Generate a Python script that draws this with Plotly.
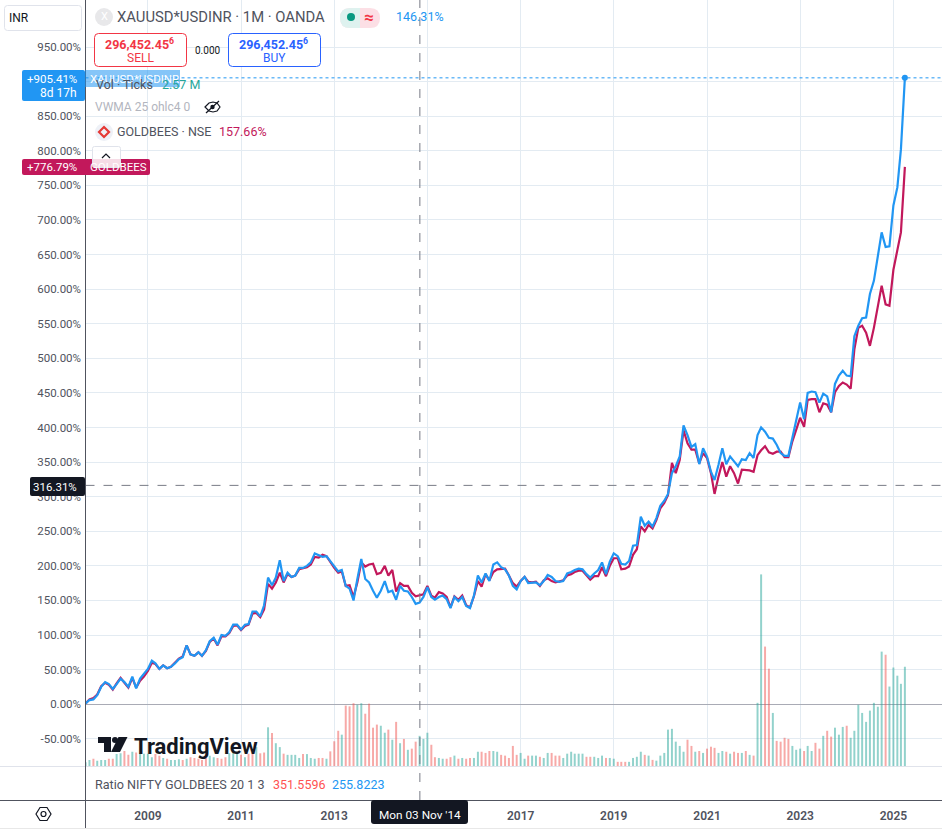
import pandas as pd
import plotly.graph_objects as go

W, H = 942, 835

# Monthly closes, % change from the first bar
xau_pct = [
    1, 6, 7, 13, 25, 32, 29, 22, 29, 37, 32, 25, 40, 23, 37, 44, 51, 63, 59, 51,
    56, 52, 54, 59, 65, 68, 85, 72, 70, 75, 70, 78, 91, 96, 86, 100, 99, 104, 115, 115,
    108, 115, 116, 134, 134, 127, 143, 183, 172, 183, 208, 178, 190, 184, 186, 197, 197, 200, 205, 218,
    216, 213, 214, 207, 200, 192, 194, 171, 167, 150, 181, 210, 181, 176, 164, 154, 164, 178, 162, 164,
    151, 171, 164, 163, 155, 145, 147, 155, 169, 155, 151, 155, 157, 152, 139, 155, 149, 155, 142, 139,
    157, 186, 176, 189, 178, 202, 205, 198, 195, 186, 171, 166, 178, 184, 175, 176, 176, 172, 178, 187,
    184, 178, 177, 178, 189, 191, 194, 196, 195, 188, 183, 189, 194, 205, 188, 206, 218, 214, 203, 202,
    207, 229, 230, 271, 258, 264, 257, 269, 287, 294, 304, 334, 344, 358, 403, 389, 372, 376, 347, 370,
    358, 336, 324, 346, 370, 347, 358, 351, 344, 354, 353, 363, 356, 389, 400, 394, 385, 384, 375, 363,
    359, 359, 384, 409, 436, 412, 450, 452, 451, 436, 449, 445, 422, 463, 475, 482, 475, 474, 532, 547,
    558, 559, 593, 612, 651, 682, 661, 662, 721, 747, 802, 905.41,
]
goldbees_pct = [
    1, 7, 9, 14, 26, 31, 28, 21, 30, 38, 31, 24, 38, 24, 34, 40, 48, 60, 58, 51,
    56, 52, 54, 60, 66, 69, 85, 72, 70, 75, 70, 77, 90, 95, 85, 98, 98, 103, 113, 114,
    107, 113, 115, 131, 132, 126, 137, 174, 167, 176, 190, 176, 188, 184, 186, 195, 196, 198, 202, 213,
    212, 216, 214, 205, 197, 190, 192, 171, 172, 155, 176, 205, 199, 202, 203, 188, 190, 200, 186, 194,
    163, 175, 171, 171, 161, 156, 158, 159, 171, 157, 154, 162, 160, 155, 140, 156, 151, 157, 143, 140,
    156, 178, 170, 188, 179, 191, 195, 196, 196, 186, 175, 170, 178, 184, 177, 176, 177, 171, 179, 182,
    178, 176, 177, 179, 186, 188, 191, 193, 193, 187, 180, 185, 185, 198, 185, 200, 211, 211, 195, 196,
    199, 216, 224, 257, 250, 259, 254, 266, 283, 291, 302, 349, 334, 353, 396, 377, 368, 368, 348, 363,
    356, 334, 304, 329, 350, 329, 344, 334, 319, 339, 339, 338, 336, 360, 367, 373, 364, 362, 365, 365,
    357, 357, 380, 397, 414, 401, 440, 441, 441, 422, 435, 433, 422, 451, 460, 465, 462, 456, 513, 544,
    547, 537, 518, 544, 576, 605, 578, 576, 628, 656, 682, 776.79,
]
# Volume overlay, millions of ticks
vol_m = [
    .11, .17, .20, .15, .17, .17, .20, .20, .32, .34, .40, .30, .38, .36, .34, .33, .33, .24, .32, .28,
    .22, .20, .17, .17, .19, .17, .20, .24, .22, .20, .17, .22, .28, .24, .22, .20, .24, .34, .34, .34,
    .30, .24, .33, .34, .50, .34, .36, 1.01, .86, .60, .50, .33, .30, .30, .30, .22, .32, .32, .22, .20,
    .22, .22, .20, .39, .65, .92, .82, 1.57, 1.55, 1.63, 1.59, 1.63, 1.36, 1.62, 1.00, 1.08, 1.05, .87, .95, .69,
    1.15, .60, .71, .43, .46, .64, .79, .71, .87, .56, .24, .22, .20, .20, .24, .28, .20, .22, .20, .22,
    .22, .38, .38, .35, .40, .40, .38, .30, .28, .22, .53, .30, .35, .20, .28, .28, .28, .25, .22, .35,
    .35, .28, .28, .22, .33, .38, .33, .33, .33, .25, .25, .25, .22, .28, .22, .22, .20, .12, .12, .12,
    .12, .22, .25, .38, .30, .28, .17, .15, .28, .35, .95, .97, .64, .53, .38, .69, .53, .38, .40, .35,
    .46, .51, .48, .35, .40, .38, .33, .38, .35, .35, .40, .30, .28, 1.64, 4.95, 3.09, 2.52, 1.38, .66, .64,
    .74, .71, .53, .43, .46, .40, .53, .40, .61, .46, .79, .92, .77, 1.00, .82, 1.02, 1.05, .74, .92, 1.59,
    1.38, 1.15, 1.44, 1.64, 1.54, 2.96, 2.88, 2.06, 2.55, 2.34, 2.13, 2.57,
]
# months whose volume bar closed down
vol_down = [
    2, 6, 7, 10, 11, 13, 18, 19, 21, 25, 27, 28, 29, 30, 31, 34, 35, 36, 40, 42,
    43, 45, 46, 48, 51, 56, 60, 61, 63, 64, 65, 67, 68, 69, 72, 73, 74, 75, 78, 80,
    82, 84, 85, 89, 90, 93, 94, 96, 98, 99, 102, 103, 104, 107, 108, 109, 110, 111, 114, 117,
    120, 121, 122, 129, 130, 134, 137, 138, 139, 144, 146, 155, 156, 158, 160, 161, 162, 165, 167, 168,
    170, 172, 175, 176, 178, 179, 180, 181, 185, 188, 189, 191, 192, 196, 206,
]
y_ticks = [-50, 0, 50, 100, 150, 200, 250, 300, 350, 400, 450, 500, 550, 600, 650, 700, 750, 800, 850, 900, 950]
x_ticks = ["2009", "2011", "2013", "2015", "2017", "2019", "2021", "2023", "2025"]

dates = pd.date_range("2007-09-01", periods=len(xau_pct), freq="MS")
cursor_date = "2014-11-03"
cursor_pct = 316.31

FONT = "Roboto"
BLUE = "#2196f3"
CRIMSON = "#c2185b"
GREY = "#50535e"
GRID = "#e3ebf2"


# pixel helpers for the chrome around the chart
def px(x):
    return x / W


def py(y):
    return 1 - y / H


def box(x0, y0, x1, y1, fill=None, line=None, lw=1, r=0):
    if r:
        a, b, c, d = px(x0), px(x1), py(y0), py(y1)
        rx, ry = r / W, r / H
        path = (f"M{a + rx},{c} L{b - rx},{c} Q{b},{c} {b},{c - ry} L{b},{d + ry} Q{b},{d} {b - rx},{d} "
                f"L{a + rx},{d} Q{a},{d} {a},{d + ry} L{a},{c - ry} Q{a},{c} {a + rx},{c} Z")
        return dict(type="path", xref="paper", yref="paper", path=path, fillcolor=fill or "rgba(0,0,0,0)",
                    line=dict(color=line or "rgba(0,0,0,0)", width=lw))
    return dict(type="rect", xref="paper", yref="paper", x0=px(x0), x1=px(x1), y0=py(y0), y1=py(y1),
                fillcolor=fill or "rgba(0,0,0,0)", line=dict(color=line or "rgba(0,0,0,0)", width=lw))


def rule(x0, y0, x1, y1, color, lw=1, dash="solid"):
    return dict(type="line", xref="paper", yref="paper", x0=px(x0), x1=px(x1), y0=py(y0), y1=py(y1),
                line=dict(color=color, width=lw, dash=dash))


def dot(cx, cy, r, fill):
    return dict(type="circle", xref="paper", yref="paper", x0=px(cx - r), x1=px(cx + r), y0=py(cy - r), y1=py(cy + r),
                fillcolor=fill, line=dict(width=0))


def poly(points, fill=None, line=None, lw=1, closed=True):
    d = "M" + " L".join(f"{px(a)},{py(b)}" for a, b in points) + (" Z" if closed else "")
    return dict(type="path", xref="paper", yref="paper", path=d, fillcolor=fill or "rgba(0,0,0,0)",
                line=dict(color=line or "rgba(0,0,0,0)", width=lw))


def label(x, y, text, color=GREY, size=12, anchor="left", weight=None):
    font = dict(family=FONT, size=size, color=color)
    if weight:
        font["weight"] = weight
    return dict(xref="paper", yref="paper", x=px(x), y=py(y), text=text, showarrow=False, xanchor=anchor,
                yanchor="middle", font=font, borderpad=0, borderwidth=0)


fig = go.Figure()

fig.add_trace(go.Bar(
    x=dates, y=vol_m, yaxis="y2",
    marker_color=["rgba(239,83,80,0.5)" if i in vol_down else "rgba(38,166,154,0.5)" for i in range(len(vol_m))],
    marker_line_width=0,
    width=15.5 * 86400000,
))
fig.add_trace(go.Scatter(x=dates, y=goldbees_pct, mode="lines", line=dict(color=CRIMSON, width=2.2)))
fig.add_trace(go.Scatter(x=dates, y=xau_pct, mode="lines", line=dict(color=BLUE, width=2.2)))
fig.add_trace(go.Scatter(x=dates[-1:], y=xau_pct[-1:], mode="markers", marker=dict(color=BLUE, size=6)))

shapes = [
    # price and cursor lines
    dict(type="line", xref="paper", yref="y", x0=px(85.5), x1=1, y0=905.41, y1=905.41,
         line=dict(color=BLUE, width=1, dash="dot")),
    dict(type="line", xref="paper", yref="y", x0=px(85.5), x1=1, y0=cursor_pct, y1=cursor_pct,
         line=dict(color="#787b86", width=1, dash="dash")),
    dict(type="line", xref="x", yref="paper", x0=cursor_date, x1=cursor_date, y0=py(800), y1=1,
         line=dict(color="#787b86", width=1, dash="dash")),
    # pane separators
    rule(0, 766.5, 942, 766.5, "#e0e3eb"),
    rule(0, 800.5, 942, 800.5, GREY),
    rule(85.5, 0, 85.5, 828, GREY),
    rule(0, 828.5, 942, 828.5, "#e8e8e8"),
    # scale tag boxes
    box(4.5, 5.5, 81.5, 30.5, "white", "#e0e3eb", 1, 3),
    box(22, 70, 85, 101, BLUE, None, 0, 2),
    box(85, 70, 180, 87, "rgba(33,150,243,0.55)"),
    box(22, 159, 150, 175, CRIMSON, None, 0, 2),
    box(30, 477, 85, 496, "#131722", None, 0, 2),
    box(371, 800, 468, 824, "#131722", None, 0, 3),
    # legend
    dot(104, 17, 9, "#e8e8ea"),
    box(340, 8, 380, 28, "#fcdfe5", None, 0, 10),
    box(340, 8, 360, 28, "#def2ef", None, 0, 10),
    box(352, 8, 360, 28, "#def2ef"),
    dot(351, 17, 4, "#089981"),
    box(94.5, 33.5, 186.5, 66.5, "white", "#f23645", 1, 4),
    box(228.5, 33.5, 320.5, 66.5, "white", "#2962ff", 1, 4),
    dot(104, 132, 9, "#eef1f7"),
    poly([(104, 127), (109, 132), (104, 137), (99, 132)], None, "#e53935", 2.2),
    box(92.5, 146.5, 120.5, 167.5, "rgba(255,255,255,0.85)", "#e0e3eb", 1, 2),
    poly([(102, 158), (106, 154), (110, 158)], None, "#131722", 1.2, False),
    # hidden-eye icon
    poly([(205, 107), (209, 103), (213, 102), (217, 103), (220, 107), (217, 111), (213, 112), (209, 111)], None, "#131722", 1.2),
    dot(212.5, 107, 2.2, "#131722"),
    rule(206, 113, 219, 101, "#131722", 1.2),
    # TradingView mark
    poly([(98, 737), (111, 737), (111, 752), (104, 752), (104, 743), (98, 743)], "#131722"),
    dot(115, 740, 3, "#131722"),
    poly([(118.5, 737), (127.5, 737), (120, 752), (111, 752)], "#131722"),
    # gear icon
    poly([(36, 814), (40, 807.5), (47, 807.5), (51, 814), (47, 820.5), (40, 820.5)], None, "#131722", 1.2),
    dict(type="circle", xref="paper", yref="paper", x0=px(41), x1=px(46), y0=py(811.5), y1=py(816.5),
         line=dict(color="#131722", width=1.2)),
]

annotations = [
    label(8.5, 18, "INR", "#131722"),
    label(104, 17, "X", "white", 11, "center"),
    label(117, 17, "XAUUSD*USDINR · 1M · OANDA", GREY, 14.8),
    label(369, 17, "≈", "#f23645", 17, "center", 700),
    label(396, 17, "146.31%", BLUE, 12.5),
    label(105, 44, "296,452.45<sup>6</sup>", "#f23645", 12.5, weight=700),
    label(140, 58, "SELL", "#f23645", 12, "center"),
    label(195, 51, "0.000", "#131722", 10),
    label(239, 44, "296,452.45<sup>6</sup>", "#2962ff", 12.5, weight=700),
    label(274, 58, "BUY", "#2962ff", 12, "center"),
    label(90, 79, "XAUUSD*USDINR", "white", 11.5),
    label(96, 84, "Vol · Ticks", GREY, 12.5),
    label(162, 84, "2.57 M", "#26a69a", 12.5),
    label(95, 107, "VWMA 25 ohlc4 0", "#b2b5be", 12),
    label(117, 132, "GOLDBEES · NSE", GREY, 12.5),
    label(219, 132, "157.66%", CRIMSON, 12.5),
    label(90, 167, "GOLDBEES", "white", 11.5),
    label(77, 79, "+905.41%", "white", 11.5, "right"),
    label(77, 93, "8d 17h", "white", 12, "right"),
    label(77, 167, "+776.79%", "white", 11.5, "right"),
    label(77, 487, "316.31%", "white", 11.5, "right"),
    label(419.5, 815, "Mon 03 Nov '14", "white", 11.8, "center"),
    label(134, 746, "TradingView", "#131722", 22, weight=700),
    label(95, 784, "Ratio NIFTY GOLDBEES 20 1 3", GREY, 12.6),
    label(273, 784, "351.5596", "#ff5252", 12.5),
    label(332, 784, "255.8223", "#2196f3", 12.5),
]

fig.update_layout(
    width=W, height=H,
    autosize=False,
    margin=dict(l=0, r=0, t=0, b=0),
    paper_bgcolor="white",
    plot_bgcolor="white",
    showlegend=False,
    font=dict(family=FONT, size=12, color=GREY),
    xaxis=dict(
        type="date",
        domain=[px(85.5), 1],
        range=["2007-08-31", "2026-01-17"],
        anchor="free",
        position=py(800),
        tickvals=[f"{t}-01-01" for t in x_ticks],
        ticktext=x_ticks,
        tickfont=dict(family=FONT, size=12, color=GREY, weight=600),
        ticks="outside", ticklen=5, tickcolor="rgba(0,0,0,0)",
        showgrid=True, gridcolor=GRID, gridwidth=1,
        zeroline=False,
    ),
    yaxis=dict(
        domain=[py(766.5), 1],
        range=[-90.05, 1017.95],
        tickvals=y_ticks,
        ticktext=[f"{t:.2f}%" for t in y_ticks],
        ticks="", ticklabelposition="outside",
        tickfont=dict(family=FONT, size=11.5, color=GREY),
        anchor="free", position=px(81),
        showgrid=True, gridcolor=GRID, gridwidth=1,
        zeroline=True, zerolinecolor="#a9abb5", zerolinewidth=1,
    ),
    yaxis2=dict(
        domain=[py(766.5), 1],
        range=[0, 19.75],
        overlaying="y",
        showgrid=False, showticklabels=False, zeroline=False, visible=False,
    ),
    shapes=shapes,
    annotations=annotations,
)

# page body has a default margin, drop it so the figure fills the window
fig.write_html("out.html", config=dict(displayModeBar=False),
               post_script="document.body.style.margin='0';document.body.style.overflow='hidden';")
